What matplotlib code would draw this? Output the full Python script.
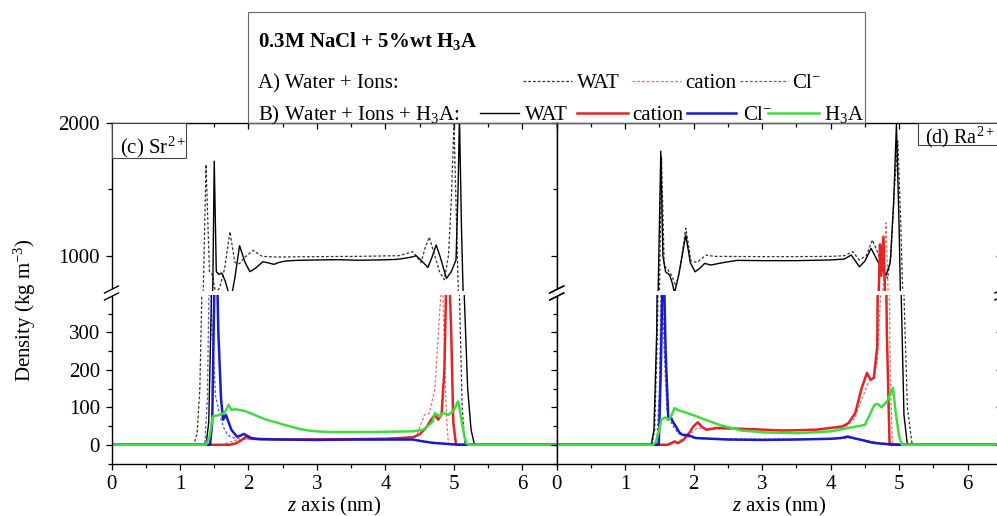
import matplotlib.pyplot as plt
from matplotlib.lines import Line2D
from matplotlib.patches import Rectangle, Polygon
from matplotlib.ticker import MultipleLocator, FixedLocator, NullFormatter

plt.rcParams['font.family'] = ['Liberation Serif', 'DejaVu Serif']
plt.rcParams['mathtext.fontset'] = 'custom'
plt.rcParams['mathtext.rm'] = 'Liberation Serif'
plt.rcParams['mathtext.it'] = 'Liberation Serif:italic'
plt.rcParams['mathtext.bf'] = 'Liberation Serif:bold'

W, H = 997, 516

# ---- (c) Sr2+ : density profiles (kg m-3) along z (nm) ----
# A) water + ions (dotted)
sr_wat_a_z = [0, 1.20, 1.25, 1.29, 1.33, 1.38, 1.43, 1.47, 1.52, 1.58, 1.65, 1.73, 1.80, 1.87, 1.95, 2.07, 2.20, 2.40, 3.00, 3.60,
              4.20, 4.40, 4.52, 4.58, 4.64, 4.72, 4.79, 4.86, 4.92, 4.96, 5.00, 5.04, 5.08, 5.12, 5.16, 6.5]
sr_wat_a_v = [0, 0, 30, 150, 500, 1685, 880, 860, 720, 760, 900, 1180, 950, 940, 990, 1040, 995, 990, 993, 995,
              1000, 1030, 950, 1060, 1140, 1000, 880, 820, 1000, 1400, 1987, 1200, 400, 100, 0, 0]
sr_cat_a_z = [0, 1.62, 1.70, 1.80, 1.95, 2.5, 3.5, 4.30, 4.45, 4.57, 4.64, 4.72, 4.79, 4.83, 4.87, 4.89, 4.92, 6.5]
sr_cat_a_v = [0, 0, 5, 12, 15, 14, 15, 17, 22, 80, 83, 150, 350, 460, 200, 80, 0, 0]
sr_cl_a_z = [0, 1.36, 1.40, 1.43, 1.47, 1.52, 1.58, 1.64, 1.70, 1.80, 1.95, 2.50, 3.50, 4.40, 4.60, 4.80, 5.00, 5.10, 6.5]
sr_cl_a_v = [0, 0, 120, 500, 300, 130, 80, 45, 25, 18, 16, 15, 15, 14, 8, 4, 1, 0, 0]
# B) water + ions + H3A (solid)
sr_wat_b_z = [0, 1.38, 1.42, 1.46, 1.48, 1.50, 1.53, 1.57, 1.61, 1.66, 1.71, 1.75, 1.80, 1.87, 1.95, 2.02, 2.10, 2.21, 2.30, 2.37,
              2.45, 2.54, 2.70, 3.00, 3.30, 3.60, 3.90, 4.15, 4.30, 4.38, 4.45, 4.53, 4.62, 4.68, 4.74, 4.80, 4.89, 4.96,
              5.03, 5.06, 5.08, 5.11, 5.15, 5.20, 5.25, 5.30, 6.5]
sr_wat_b_v = [0, 0, 60, 400, 800, 1710, 880, 860, 870, 810, 720, 690, 830, 1075, 950, 880, 905, 955, 945, 935,
              950, 960, 965, 968, 970, 966, 968, 972, 982, 990, 1000, 960, 912, 990, 1080, 990, 829, 880,
              968, 1500, 2050, 1200, 400, 150, 40, 0, 0]
sr_cat_b_z = [0, 1.72, 1.80, 1.88, 1.97, 2.05, 2.50, 3.00, 3.50, 4.00, 4.40, 4.50, 4.59, 4.66, 4.72, 4.77, 4.82, 4.86,
              4.89, 4.92, 4.96, 4.99, 5.03, 6.5]
sr_cat_b_v = [0, 0, 3, 10, 22, 16, 14, 14, 15, 16, 20, 28, 45, 65, 80, 67, 82, 200, 450, 520, 300, 60, 0, 0]
sr_cl_b_z = [0, 1.44, 1.47, 1.50, 1.53, 1.56, 1.60, 1.63, 1.67, 1.71, 1.75, 1.83, 1.88, 1.93, 2.04, 2.15, 2.50, 3.00,
             3.50, 4.00, 4.40, 4.55, 4.70, 4.85, 5.00, 5.10, 6.5]
sr_cl_b_v = [0, 0, 60, 400, 560, 300, 120, 67, 80, 60, 40, 22, 24, 29, 18, 15, 14, 13, 14, 14, 14, 9, 5, 3, 1, 0, 0]
sr_h3a_z = [0, 1.38, 1.43, 1.48, 1.53, 1.58, 1.65, 1.71, 1.75, 1.80, 1.87, 1.95, 2.02, 2.15, 2.26, 2.40, 2.51, 2.63,
            2.75, 2.88, 2.99, 3.20, 3.50, 3.80, 4.10, 4.40, 4.55, 4.65, 4.69, 4.72, 4.79, 4.84, 4.92, 5.00, 5.06, 5.09,
            5.12, 5.15, 5.18, 5.22, 6.5]
sr_h3a_v = [0, 0, 20, 76, 78, 80, 85, 107, 93, 95, 93, 90, 85, 75, 67, 60, 54, 48, 42, 38, 36, 34, 34, 34, 35, 36,
            40, 55, 62, 85, 76, 85, 80, 93, 116, 90, 54, 25, 4, 0, 0]

# ---- (d) Ra2+ ----
ra_wat_a_z = [0, 1.39, 1.43, 1.47, 1.50, 1.53, 1.57, 1.61, 1.68, 1.74, 1.80, 1.885, 1.96, 2.05, 2.18, 2.30, 3.00, 3.50,
              4.00, 4.20, 4.32, 4.42, 4.52, 4.61, 4.70, 4.78, 4.83, 4.88, 4.93, 4.98, 5.02, 5.07, 5.12, 5.19, 6.5]
ra_wat_a_v = [0, 0, 40, 300, 700, 1740, 920, 905, 850, 770, 900, 1206, 960, 950, 1005, 995, 993, 993,
              995, 1000, 1030, 968, 1000, 1118, 1005, 880, 829, 1000, 1500, 1860, 1300, 400, 100, 0, 0]
ra_cat_a_z = [0, 1.65, 1.75, 1.90, 2.05, 2.20, 2.60, 3.50, 4.20, 4.35, 4.45, 4.55, 4.62, 4.68, 4.73, 4.77, 4.81, 4.84,
              4.87, 4.90, 6.5]
ra_cat_a_v = [0, 0, 8, 20, 45, 42, 42, 40, 45, 70, 120, 165, 180, 220, 400, 800, 1247, 700, 200, 0, 0]
ra_cl_a_z = [0, 1.46, 1.50, 1.53, 1.57, 1.61, 1.68, 1.78, 1.90, 2.10, 3.00, 4.00, 4.30, 4.50, 4.70, 4.90, 5.05, 6.5]
ra_cl_a_v = [0, 0, 150, 480, 250, 90, 55, 30, 22, 16, 15, 16, 18, 12, 5, 2, 0, 0]
ra_wat_b_z = [0, 1.38, 1.42, 1.46, 1.48, 1.52, 1.55, 1.59, 1.65, 1.69, 1.72, 1.78, 1.885, 1.95, 2.02, 2.10, 2.16, 2.25,
              2.35, 2.45, 2.64, 3.00, 3.50, 4.00, 4.20, 4.30, 4.42, 4.50, 4.59, 4.69, 4.75, 4.81, 4.87, 4.92, 4.96,
              5.00, 5.03, 5.07, 5.12, 6.5]
ra_wat_b_v = [0, 0, 40, 300, 700, 1785, 1000, 879, 855, 790, 720, 850, 1156, 950, 879, 910, 942, 930,
              940, 950, 965, 963, 963, 968, 975, 1005, 917, 960, 1055, 955, 900, 854, 950, 1400, 1987,
              1200, 400, 80, 0, 0]
ra_cat_b_z = [0, 1.62, 1.68, 1.72, 1.77, 1.85, 1.94, 2.00, 2.06, 2.12, 2.19, 2.33, 2.81, 3.30, 3.78, 4.17, 4.26, 4.36,
              4.45, 4.53, 4.58, 4.63, 4.68, 4.70, 4.72, 4.74, 4.77, 4.79, 4.82, 4.86, 6.5]
ra_cat_b_v = [0, 0, 5, 9, 4, 13, 33, 50, 60, 48, 40, 45, 42, 38, 40, 49, 58, 85, 150, 192, 174, 178, 263, 700,
              1085, 850, 1143, 800, 300, 0, 0]
ra_cl_b_z = [0, 1.49, 1.52, 1.555, 1.59, 1.63, 1.67, 1.70, 1.74, 1.79, 1.83, 1.93, 2.03, 2.50, 3.00, 3.50, 4.00, 4.15,
             4.25, 4.35, 4.45, 4.60, 4.74, 4.90, 5.03, 6.5]
ra_cl_b_v = [0, 0, 200, 560, 250, 67, 72, 60, 49, 33, 27, 25, 18, 14, 13, 14, 16, 18, 22, 17, 13, 6, 3, 1, 0, 0]
ra_h3a_z = [0, 1.41, 1.45, 1.49, 1.53, 1.58, 1.64, 1.68, 1.72, 1.78, 1.85, 1.98, 2.17, 2.41, 2.70, 3.04, 3.53, 4.01,
            4.26, 4.50, 4.57, 4.64, 4.69, 4.74, 4.82, 4.88, 4.91, 4.95, 5.00, 5.04, 6.5]
ra_h3a_v = [0, 0, 9, 35, 67, 73, 67, 80, 98, 92, 88, 80, 67, 51, 38, 33, 31, 36, 45, 53, 80, 107, 109, 100, 115,
            140, 152, 85, 22, 0, 0]

x_ticks = [0, 1, 2, 3, 4, 5, 6]
y_ticks_low = [0, 100, 200, 300]
y_ticks_high = [1000, 2000]
panel_labels = [r'(c) Sr$^{2+}$', r'(d) Ra$^{2+}$']

BLACK_DOT = '#333333'
RED = '#e02525'
RED_DOT = '#e07070'
BLUE = '#1a1ac8'
BLUE_DOT = '#5858c8'
GREEN = '#3fdc3f'
FS = 15


def fx(px):
    return px / W


def fy(py):
    return 1 - py / H


fig = plt.figure(figsize=(W / 100, H / 100), dpi=100)

panels = [
    (111.5, True,
     [(sr_wat_a_z, sr_wat_a_v), (sr_cat_a_z, sr_cat_a_v), (sr_cl_a_z, sr_cl_a_v)],
     [(sr_wat_b_z, sr_wat_b_v), (sr_cat_b_z, sr_cat_b_v), (sr_cl_b_z, sr_cl_b_v), (sr_h3a_z, sr_h3a_v)]),
    (556.7, False,
     [(ra_wat_a_z, ra_wat_a_v), (ra_cat_a_z, ra_cat_a_v), (ra_cl_a_z, ra_cl_a_v)],
     [(ra_wat_b_z, ra_wat_b_v), (ra_cat_b_z, ra_cat_b_v), (ra_cl_b_z, ra_cl_b_v), (ra_h3a_z, ra_h3a_v)]),
]

pw = 445.2 / W
top_px, split_top, split_bot, bot_px = 122.5, 291, 295, 463.5

for x0, first, ser_a, ser_b in panels:
    ax_t = fig.add_axes([fx(x0), fy(split_top), pw, (split_top - top_px) / H])
    ax_b = fig.add_axes([fx(x0), fy(bot_px), pw, (bot_px - split_bot) / H])
    for ax in (ax_t, ax_b):
        for (z, v), c in zip(ser_a, [BLACK_DOT, RED_DOT, BLUE_DOT]):
            ax.plot(z, v, color=c, lw=0.9, ls=(0, (2.2, 1.6)))
        for (z, v), c, lw in zip(ser_b, ['black', RED, BLUE, GREEN], [1.0, 1.8, 1.8, 1.8]):
            ax.plot(z, v, color=c, lw=lw)
        ax.set_xlim(0, 6.5)
        ax.xaxis.set_major_locator(MultipleLocator(1))
        ax.xaxis.set_minor_locator(MultipleLocator(0.5))
        for sp in ax.spines.values():
            sp.set_linewidth(1.0)
        ax.tick_params(which='major', length=4.3, width=0.9, labelsize=FS, pad=4)
        ax.tick_params(which='minor', length=2.8, width=0.9)
        ax.tick_params(axis='y', which='both', direction='out', left=True, right=False)

    ax_t.set_ylim(735, 2000)
    ax_t.yaxis.set_major_locator(FixedLocator(y_ticks_high))
    ax_t.yaxis.set_minor_locator(MultipleLocator(500))
    ax_t.spines['bottom'].set_visible(False)
    ax_t.tick_params(axis='x', which='both', direction='in', top=True, bottom=False, labelbottom=False)

    ax_b.set_ylim(-50, 400)
    ax_b.yaxis.set_major_locator(FixedLocator(y_ticks_low))
    ax_b.yaxis.set_minor_locator(FixedLocator([-50, 50, 150, 250, 350]))
    ax_b.spines['top'].set_visible(False)
    ax_b.tick_params(axis='x', which='both', direction='out', top=False, bottom=True)
    ax_b.set_xticks(x_ticks)

    if not first:
        for ax in (ax_t, ax_b):
            ax.tick_params(axis='y', labelleft=False)
            tw = ax.twinx()
            tw.set_ylim(ax.get_ylim())
            tw.yaxis.set_major_locator(ax.yaxis.get_major_locator())
            tw.yaxis.set_minor_locator(ax.yaxis.get_minor_locator())
            tw.yaxis.set_major_formatter(NullFormatter())
            tw.tick_params(axis='y', which='major', direction='in', length=4.3, width=0.9)
            tw.tick_params(axis='y', which='minor', direction='in', length=2.8, width=0.9)
            for sp in tw.spines.values():
                sp.set_visible(False)
            tw.spines['right'].set_visible(True)

    # z axis label
    fig.text(fx(x0 + 445.2 / 2), fy(506), r'$z$ axis (nm)', ha='center', va='center', fontsize=FS)

    # axis break marks
    for xb in (x0, x0 + 445.2):
        fig.add_artist(Polygon([(fx(xb - 7), fy(293)), (fx(xb + 7), fy(286)), (fx(xb + 7), fy(293)),
                                (fx(xb - 7), fy(300))], closed=True, transform=fig.transFigure,
                               fc='white', ec='none', zorder=5))
        for yb in (293, 300):
            fig.add_artist(Line2D([fx(xb - 7), fx(xb + 7)], [fy(yb), fy(yb - 7)],
                                  transform=fig.transFigure, color='black', lw=1.0, zorder=6))

# panel label boxes
fig.add_artist(Rectangle((fx(111.5), fy(158)), (186 - 111.5) / W, (158 - 122.5) / H,
                         transform=fig.transFigure, fc='white', ec='#444444', lw=0.8, zorder=3))
fig.text(fx(120), fy(153), panel_labels[0], fontsize=FS, va='baseline', zorder=4)
fig.add_artist(Rectangle((fx(917.7), fy(144.5)), (1010 - 917.7) / W, (144.5 - 122.5) / H,
                         transform=fig.transFigure, fc='white', ec='#444444', lw=0.8, zorder=3))
fig.text(fx(925), fy(143.5), panel_labels[1], fontsize=14.5, va='baseline', zorder=4)

# y label
fig.text(fx(25), fy(310), r'Density (kg m$^{-3}$)', rotation=90, ha='center', va='center', fontsize=FS)

# legend block
fig.add_artist(Rectangle((fx(248), fy(122.5)), (865 - 248) / W, (122.5 - 12) / H,
                         transform=fig.transFigure, fill=False, ec='#666666', lw=0.8, zorder=1))
fig.text(fx(258.5), fy(47.5), r'0.3M NaCl + 5%wt H$_{\mathbf{3}}$A', fontsize=FS, fontweight='bold', va='baseline')
fig.text(fx(258.5), fy(88), 'A) Water + Ions:', fontsize=FS, va='baseline')
fig.text(fx(258.5), fy(120), r'B) Water + Ions + H$_3$A:', fontsize=FS, va='baseline')


def leg_line(a, b, y, **kw):
    fig.add_artist(Line2D([fx(a), fx(b)], [fy(y), fy(y)], transform=fig.transFigure, **kw))


dot = dict(lw=0.9, ls=(0, (2.2, 1.6)))
leg_line(522.7, 572, 81, color=BLACK_DOT, **dot)
fig.text(fx(577), fy(88), 'WAT', fontsize=FS, va='baseline')
leg_line(632, 681, 81, color=RED_DOT, **dot)
fig.text(fx(685), fy(88), 'cation', fontsize=FS, va='baseline')
leg_line(739.5, 788, 81, color=BLUE_DOT, **dot)
fig.text(fx(792), fy(88), r'Cl$^{-}$', fontsize=FS, va='baseline')

leg_line(480, 519, 113, color='black', lw=1.0)
fig.text(fx(525), fy(120), 'WAT', fontsize=FS, va='baseline')
leg_line(577, 628, 113, color=RED, lw=1.8)
fig.text(fx(632), fy(120), 'cation', fontsize=FS, va='baseline')
leg_line(687, 735.5, 113, color=BLUE, lw=1.8)
fig.text(fx(743), fy(120), r'Cl$^{-}$', fontsize=FS, va='baseline')
leg_line(768, 818.5, 113, color=GREEN, lw=1.8)
fig.text(fx(824), fy(120), r'H$_3$A', fontsize=FS, va='baseline')

fig.savefig('out.png', dpi=100)
